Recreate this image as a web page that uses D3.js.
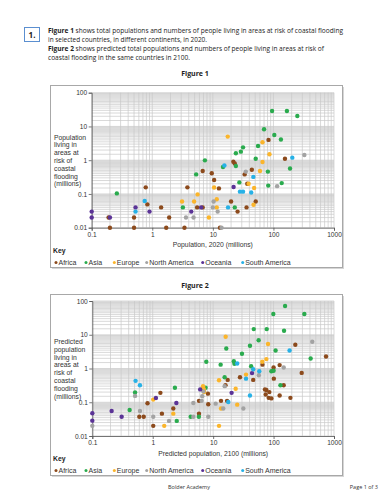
<!DOCTYPE html>
<html>
<head>
<meta charset="utf-8">
<script src="https://cdn.jsdelivr.net/npm/d3@7"></script>
<style>
  body { margin: 0; background: #fff; }
  svg { display: block; }
</style>
</head>
<body>
<svg width="386" height="500"></svg>
<script>
// continents, in key order
const continents = ["Africa", "Asia", "Europe", "North America", "Oceania", "South America"];
const continentColors = ["#8c4a1c", "#2aab4e", "#fbb52b", "#a3a3a3", "#5b3396", "#27b1e6"];

const xTicks = [0.1, 1, 10, 100, 1000];
const yTicks = [0.01, 0.1, 1, 10, 100];

// Figure 1: [population 2020, population at risk] in millions
const fig1Africa = [[0.19,0.02],[0.2,0.01],[0.5,0.02],[0.5,0.01],[0.78,0.157],[0.83,0.049],[1.4,0.04],[1.7,0.01],[1.9,0.02],[3.4,0.01],[3.8,0.157],[5.5,0.04],[6.8,0.04],[6.8,0.48],[9.6,0.41],[10.5,0.26],[12.6,0.146],[13.1,0.01],[20,0.06],[21.8,0.9],[23,0.8],[25.6,0.03],[33.5,0.38],[36,0.04],[37,0.2],[44,0.52],[51,0.06],[83,4.0],[155,1.1]];
const fig1Asia = [[0.26,0.104],[3.2,0.04],[5.3,0.38],[7.4,0.99],[14.7,0.63],[23,0.04],[24,1.6],[24,0.67],[27.4,0.22],[29,1.79],[31.5,2.4],[51,1.1],[55.7,2.63],[70,8.3],[81,0.46],[82,0.177],[95,28.6],[103.5,5.6],[133,4.1],[137,0.21],[167,28.6],[188,0.57],[248,20.5]];
const fig1Europe = [[3.1,0.06],[4.9,0.06],[5.6,0.097],[8.6,0.02],[10.5,0.155],[11.6,0.07],[11.6,0.04],[17.6,5.0],[39,0.2],[48,0.15],[47,0.048],[66,3.4],[86,1.5],[66,0.88],[60,0.48]];
const fig1NorthAmerica = [[3.6,0.02],[4.8,0.02],[10.3,0.06],[10,0.04],[12,0.03],[13.9,0.01],[35,0.46],[115,0.17],[324,1.42]];
const fig1Oceania = [[0.1,0.03],[0.1,0.02],[0.2,0.02],[0.53,0.04],[0.9,0.03],[4.4,0.03],[6.4,0.04],[22,0.16]];
const fig1SouthAmerica = [[0.53,0.03],[0.75,0.062],[15.5,0.7],[17.8,0.04],[28,0.117],[31.5,0.117],[43,0.11],[46.6,0.32],[205,1.19]];

// Figure 2: [predicted population 2100, predicted population at risk] in millions
const fig2Africa = [[0.6,0.037],[0.71,0.037],[0.82,0.093],[1.02,0.02],[1.34,0.19],[1.42,0.046],[2.19,0.065],[5.83,0.046],[5.83,0.11],[8.2,0.18],[8.3,0.087],[13.5,0.11],[17,0.11],[16,0.32],[17.4,0.46],[27.8,0.55],[46,0.46],[65.5,1.3],[72,0.24],[76,0.23],[85,0.2],[74,0.17],[83,0.135],[92,0.13],[100,1.07],[101,0.5],[126,1.26],[147,0.32],[126,0.158],[190,0.135],[229,5.05],[292,0.74],[738,2.27]];
const fig2Asia = [[0.415,0.059],[0.51,0.194],[2.33,0.27],[2.5,0.028],[4.25,0.037],[5.8,0.037],[7.5,0.27],[7.7,1.58],[13.3,1.3],[15.5,0.55],[16.5,3.9],[22,1.65],[22.5,1.38],[30,2.73],[40.7,4.7],[42.5,1.17],[47,14.7],[56.6,6.9],[77,14.7],[92,0.83],[100,0.86],[99,41],[108,3.4],[130,0.32],[149,13.2],[155,71],[323,41],[411,1.98]];
const fig2Europe = [[1.02,0.12],[1.55,0.02],[2.19,0.046],[6.8,0.3],[6.9,0.26],[7.0,0.23],[7.1,0.2],[12.5,0.45],[12.5,0.02],[13.5,0.065],[16.1,8.7],[23.6,0.25],[25,0.085],[35,0.66],[65,1.58],[76,1.9],[81,5.3]];
const fig2NorthAmerica = [[0.1,0.02],[0.51,0.154],[0.615,0.055],[1.02,0.037],[1.86,0.028],[4.7,0.095],[4.7,0.037],[6.45,0.11],[6.6,0.15],[6.9,0.21],[8.3,0.037],[11,0.091],[14.7,0.065],[15.5,0.3],[31.6,0.065],[57,0.63],[147,1.07],[437,6.2]];
const fig2Oceania = [[0.1,0.047],[0.1,0.0285],[0.209,0.055],[0.306,0.037],[1.13,0.134],[2.46,0.095],[6.1,0.24],[20.2,0.19],[44,0.73]];
const fig2SouthAmerica = [[0.52,0.43],[0.615,0.32],[17.8,0.102],[25,1.41],[35,0.5],[40.7,0.158],[46,0.95],[58,0.83],[184,3.4]];

const introLines = [
  [["Figure 1", true], [" shows total populations and numbers of people living in areas at risk of coastal flooding", false]],
  [["in selected countries, in different continents, in 2020.", false]],
  [["Figure 2", true], [" shows predicted total populations and numbers of people living in areas at risk of", false]],
  [["coastal flooding in the same countries in 2100.", false]]
];
const introWidths = [295, 159, 276, 142];

const fig1YTitle = ["Population", "living in", "areas at", "risk of", "coastal", "flooding", "(millions)"];
const fig2YTitle = ["Predicted", "population", "living in", "areas at", "risk of", "coastal", "flooding", "(millions)"];

const chartFont = "'Liberation Sans', Arial, sans-serif";
const textFont = "'Open Sans', 'Noto Sans', sans-serif";

const svg = d3.select("svg");

// header
svg.append("rect")
    .attr("x", 24.5).attr("y", 27.5).attr("width", 15).attr("height", 14)
    .attr("fill", "#fff").attr("stroke", "#5b8fd0").attr("stroke-width", 1);
svg.append("text")
    .attr("x", 32).attr("y", 38)
    .attr("text-anchor", "middle")
    .style("font", `bold 8px ${textFont}`)
    .attr("fill", "#222")
    .text("1.");

introLines.forEach(function(parts, i) {
  const t = svg.append("text")
      .attr("x", 48).attr("y", 32.5 + i * 9)
      .attr("textLength", introWidths[i])
      .attr("lengthAdjust", "spacingAndGlyphs")
      .style("font", `7px ${textFont}`)
      .attr("fill", "#222");
  parts.forEach(p => t.append("tspan").attr("font-weight", p[1] ? "bold" : null).text(p[0]));
});

function caption(label, cy) {
  svg.append("text")
      .attr("x", 195).attr("y", cy)
      .attr("text-anchor", "middle")
      .style("font", `bold 7px ${textFont}`)
      .attr("fill", "#222")
      .text(label);
}

function drawFigure(opts) {
  const g = svg.append("g");

  // panel with a little shadow
  g.append("rect")
      .attr("x", opts.box[0] + 1.5).attr("y", opts.box[1] + 1.5)
      .attr("width", opts.box[2]).attr("height", opts.box[3])
      .attr("fill", "#d6d6d6");
  g.append("rect")
      .attr("x", opts.box[0]).attr("y", opts.box[1])
      .attr("width", opts.box[2]).attr("height", opts.box[3])
      .attr("fill", "#fff").attr("stroke", "#a8a8a8").attr("stroke-width", 1);

  const x = d3.scaleLog().domain([0.1, 1000]).range(opts.xRange);
  const y = d3.scaleLog().domain([0.01, 100]).range(opts.yRange);

  // log-paper grid: verticals at 1..9, horizontals every 0.5
  const vLines = [], hLines = [];
  for (let e = -1; e < 3; e++) {
    for (let m = 1; m <= 9; m++) vLines.push(m * Math.pow(10, e));
  }
  vLines.push(1000);
  for (let e = -2; e < 2; e++) {
    for (let m = 1; m < 10; m += 0.5) hLines.push(m * Math.pow(10, e));
  }
  hLines.push(100);

  const grid = g.append("g").attr("stroke", "#c9c9c9").attr("stroke-width", 0.7);
  grid.selectAll(".v").data(vLines).join("line")
      .attr("x1", d => x(d)).attr("x2", d => x(d))
      .attr("y1", y(0.01)).attr("y2", y(100));
  grid.selectAll(".h").data(hLines).join("line")
      .attr("x1", x(0.1)).attr("x2", x(1000))
      .attr("y1", d => y(d)).attr("y2", d => y(d));

  // axes
  const fmt = d3.format("~g");
  const ax = g.append("g")
      .attr("transform", `translate(0,${y(0.01)})`)
      .call(d3.axisBottom(x).tickValues(xTicks).tickFormat(fmt).tickSize(3).tickPadding(1.5));
  const ay = g.append("g")
      .attr("transform", `translate(${x(0.1)},0)`)
      .call(d3.axisLeft(y).tickValues(yTicks).tickFormat(fmt).tickSize(3).tickPadding(1.5));
  [ax, ay].forEach(a => {
    a.selectAll("path,line").attr("stroke", "#555").attr("stroke-width", 0.8);
    a.selectAll("text").style("font", `6.6px ${chartFont}`).attr("fill", "#333");
  });

  // y title
  opts.yTitle.forEach((s, i) => {
    g.append("text")
        .attr("x", 54).attr("y", opts.yTitleTop + i * 7.8)
        .style("font", `6.8px ${chartFont}`)
        .attr("fill", "#333")
        .text(s);
  });

  // x title
  g.append("text")
      .attr("x", (opts.xRange[0] + opts.xRange[1]) / 2).attr("y", opts.xTitleY)
      .attr("text-anchor", "middle")
      .style("font", `6.8px ${chartFont}`)
      .attr("fill", "#333")
      .text(opts.xTitle);

  // points
  opts.series.forEach((pts, i) => {
    g.append("g").selectAll("circle")
      .data(pts)
      .join("circle")
        .attr("cx", d => x(d[0]))
        .attr("cy", d => y(d[1]))
        .attr("r", 2.2)
        .attr("fill", continentColors[i]);
  });

  // key
  g.append("text")
      .attr("x", 53).attr("y", opts.keyY)
      .style("font", `bold 6.8px ${chartFont}`)
      .attr("fill", "#222")
      .text("Key");
  const keyX = [56, 86, 114.3, 146.7, 202.7, 242.7];
  const key = g.append("g").selectAll("g")
    .data(continents)
    .join("g")
      .attr("transform", (d, i) => `translate(${keyX[i]},${opts.keyY + 9.5})`);
  key.append("circle").attr("r", 1.5).attr("fill", (d, i) => continentColors[i]);
  key.append("text")
      .attr("x", 2.5).attr("y", 2.4)
      .style("font", `7px ${chartFont}`)
      .attr("fill", "#333")
      .text(d => d);
}

caption("Figure 1", 76);
drawFigure({
  box: [50.5, 85.5, 292, 182],
  xRange: [91.7, 334],
  yRange: [227.7, 92.7],
  series: [fig1Africa, fig1Asia, fig1Europe, fig1NorthAmerica, fig1Oceania, fig1SouthAmerica],
  yTitle: fig1YTitle,
  yTitleTop: 139.5,
  xTitle: "Population, 2020 (millions)",
  xTitleY: 246.5,
  keyY: 253
});

caption("Figure 2", 287.5);
drawFigure({
  box: [50.5, 294.5, 292, 181],
  xRange: [92.3, 334],
  yRange: [436, 301],
  series: [fig2Africa, fig2Asia, fig2Europe, fig2NorthAmerica, fig2Oceania, fig2SouthAmerica],
  yTitle: fig2YTitle,
  yTitleTop: 344,
  xTitle: "Predicted population, 2100 (millions)",
  xTitleY: 456,
  keyY: 461
});

// footer
svg.append("text")
    .attr("x", 189).attr("y", 489)
    .attr("text-anchor", "middle")
    .style("font", `5.5px ${textFont}`)
    .attr("fill", "#333")
    .text("Bolder Academy");
svg.append("text")
    .attr("x", 378).attr("y", 489)
    .attr("text-anchor", "end")
    .style("font", `5.5px ${textFont}`)
    .attr("fill", "#333")
    .text("Page 1 of 3");
</script>
</body>
</html>
